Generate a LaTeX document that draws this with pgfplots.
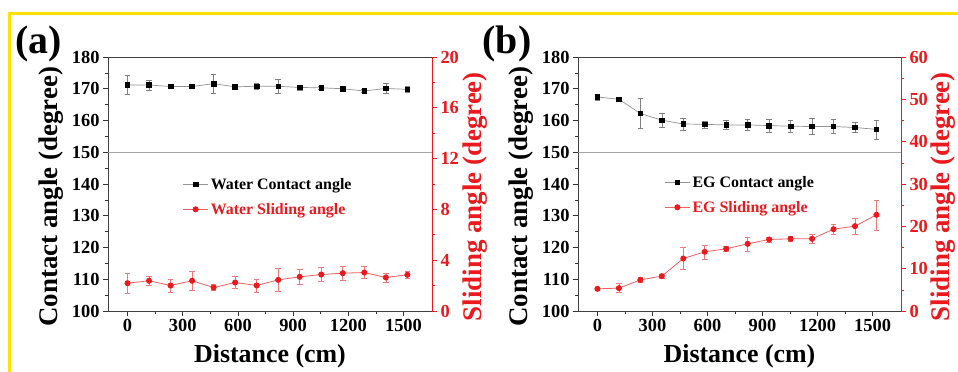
\documentclass[border=0pt]{standalone}
\usepackage{fontspec}
\setmainfont{Liberation Serif}
\usepackage{pgfplots}
\usepackage{pgfplotstable}
\pgfplotsset{compat=1.18}
\definecolor{myred}{RGB}{235,25,30}
\definecolor{lred}{RGB}{240,95,95}
\definecolor{ebred}{RGB}{240,120,120}
\definecolor{yel}{RGB}{255,225,0}

\pgfplotstableread{
x y e
0 171.2 3.1
117 171.2 1.6
234 170.7 0.4
351 170.7 0.4
468 171.6 3.0
585 170.6 0.8
702 170.8 1.0
819 170.8 2.3
936 170.4 0.8
1053 170.3 0.4
1170 170.0 0.4
1287 169.3 0.4
1404 170.1 1.6
1521 169.8 1.0
}\waterCA
\pgfplotstableread{
x y e
0 2.19 0.76
117 2.38 0.34
234 2.01 0.50
351 2.38 0.76
468 1.85 0.25
585 2.24 0.47
702 2.01 0.50
819 2.45 0.90
936 2.69 0.59
1053 2.87 0.55
1170 2.98 0.56
1287 3.03 0.46
1404 2.64 0.35
1521 2.85 0.30
}\waterSA
\pgfplotstableread{
x y e
0 167.4 1.0
117 166.7 0.5
234 162.2 4.7
351 160.1 2.2
468 158.9 1.9
585 158.8 1.1
702 158.6 1.4
819 158.6 1.8
936 158.4 2.1
1053 158.2 1.9
1170 158.1 2.5
1287 158.1 2.2
1404 157.8 1.6
1521 157.2 3.0
}\egCA
\pgfplotstableread{
x y e
0 5.24 0.3
117 5.40 1.06
234 7.36 0.63
351 8.23 0.5
468 12.40 2.6
585 13.98 1.65
702 14.69 0.5
819 15.87 1.65
936 16.89 0.6
1053 17.05 0.5
1170 17.05 1.1
1287 19.33 1.26
1404 20.04 1.97
1521 22.72 3.54
}\egSA

\pgfplotsset{
  base/.style={
    scale only axis, height=254bp,
    xmin=-106, xmax=1655,
    /pgf/number format/assume math mode=true,
    /pgf/number format/1000 sep={},
    tick label style={font=\fontsize{18.5}{18.5}\selectfont\bfseries},
    label style={font=\fontsize{27}{27}\selectfont\bfseries},
    tick align=outside,
    major tick length=5bp, minor tick length=3bp,
    tick style={line width=0.6bp},
  },
  left/.style={
    base,
    axis line style={draw=black!75, line width=0.8bp},
    tick style={black!80},
    tick pos=left,
    xtick={0,300,...,1500}, minor xtick={150,450,...,1350},
    ymin=100, ymax=180, ytick={100,110,...,180}, minor ytick={105,115,...,175},
    xlabel={Distance (cm)},
    ylabel={Contact angle (degree)},
    xlabel style={at={(axis description cs:0.5,-0.18)}, anchor=center, font=\fontsize{26}{26}\selectfont\bfseries},
    ylabel style={at={(axis description cs:-0.175,0.45)}, anchor=center},
    legend style={draw=none, fill=none, font=\fontsize{16}{16}\selectfont\bfseries, row sep=8.5bp},
    legend cell align=left,
    legend image code/.code={\draw[mark repeat=2,mark phase=2,##1] plot coordinates {(0cm,0cm) (0.45cm,0cm) (0.9cm,0cm)};},
  },
  right/.style={
    base,
    axis x line=none,
    axis y line*=right,
    y axis line style={draw=myred, line width=0.8bp},
    ytick style={myred},
    yticklabel style={myred},
    ylabel style={myred, at={(axis description cs:#1,0.45)}, anchor=center},
  },
  blk/.style={gray!85, line width=0.7bp, mark=square*, mark size=2.3bp, mark options={black, solid},
    error bars/.cd, y dir=both, y explicit,
    error bar style={gray, line width=0.6bp},
    error mark options={rotate=90, gray, mark size=2.8bp, line width=0.6bp}},
  rd/.style={lred, line width=0.8bp, mark=*, mark size=2.6bp, mark options={myred, solid},
    error bars/.cd, y dir=both, y explicit,
    error bar style={ebred, line width=0.6bp},
    error mark options={rotate=90, ebred, mark size=2.8bp, line width=0.6bp}},
}

\begin{document}
\begin{tikzpicture}
\useasboundingbox (0,0) rectangle (958bp,372bp);
\fill[white] (0,0) rectangle (958bp,372bp);
\draw[yel, line width=3bp] (9.5bp,0) -- (9.5bp,358.5bp) -- (958bp,358.5bp);

% ---------- panel (a) ----------
\begin{axis}[left, at={(108bp,61bp)}, anchor=south west, width=324bp,
  legend style={at={(axis description cs:0.22,0.54)}, anchor=north west}]
  \draw[gray!70, line width=0.6bp] (rel axis cs:0,0.625) -- (rel axis cs:1,0.625);
  \addplot[blk] table[x=x, y=y, y error=e] {\waterCA};
  \addlegendentry{Water Contact angle}
  \addlegendimage{lred, line width=0.8bp, mark=*, mark size=2.6bp, mark options={myred, solid}}
  \addlegendentry{\textcolor{myred}{Water Sliding angle}}
\end{axis}
\begin{axis}[right=1.134, at={(108bp,61bp)}, anchor=south west, width=324bp,
  ymin=0, ymax=20, ytick={0,4,...,20}, minor ytick={2,6,...,18},
  ylabel={Sliding angle (degree)}]
  \addplot[rd] table[x=x, y=y, y error=e] {\waterSA};
\end{axis}
\node[font=\fontsize{40}{40}\selectfont\bfseries] at (38.5bp,328.5bp) {(a)};

% ---------- panel (b) ----------
\begin{axis}[left, at={(578bp,61bp)}, anchor=south west, width=323bp,
  legend style={at={(axis description cs:0.257,0.548)}, anchor=north west}]
  \draw[gray!70, line width=0.6bp] (rel axis cs:0,0.625) -- (rel axis cs:1,0.625);
  \addplot[blk] table[x=x, y=y, y error=e] {\egCA};
  \addlegendentry{EG Contact angle}
  \addlegendimage{lred, line width=0.8bp, mark=*, mark size=2.6bp, mark options={myred, solid}}
  \addlegendentry{\textcolor{myred}{EG Sliding angle}}
\end{axis}
\begin{axis}[right=1.131, at={(578bp,61bp)}, anchor=south west, width=323bp,
  ymin=0, ymax=60, ytick={0,10,...,60}, minor ytick={5,15,...,55},
  ylabel={Sliding angle (degree)}]
  \addplot[rd] table[x=x, y=y, y error=e] {\egSA};
\end{axis}
\node[font=\fontsize{40}{40}\selectfont\bfseries] at (507bp,328.5bp) {(b)};
\end{tikzpicture}
\end{document}
